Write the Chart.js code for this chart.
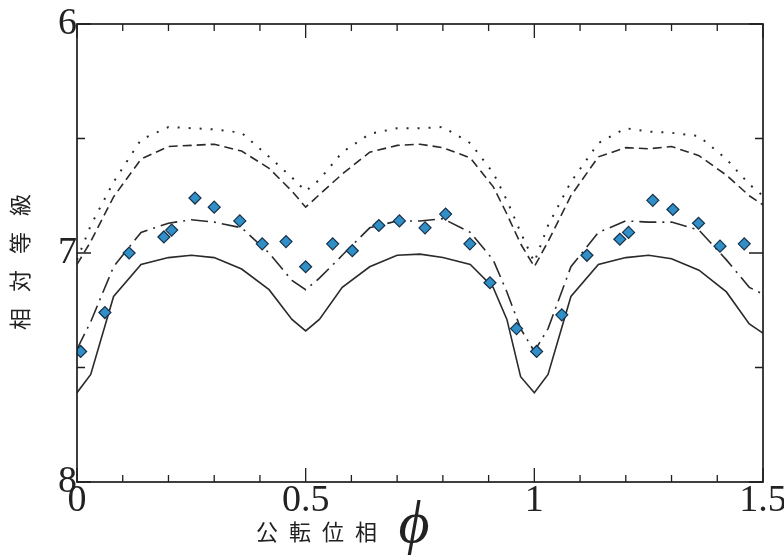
<!DOCTYPE html>
<html>
<head>
<meta charset="utf-8">
<script src="https://cdn.jsdelivr.net/npm/chart.js@4"></script>
<style>
  html, body { margin: 0; padding: 0; background: #fff; }
</style>
</head>
<body>
<canvas id="c" width="784" height="556"></canvas>
<script>
// phase grid shared by the three model curves
const phase = [0, 0.03, 0.08, 0.14, 0.2, 0.25, 0.3, 0.36, 0.42, 0.47,
  0.5, 0.53, 0.58, 0.64, 0.7, 0.75, 0.8, 0.86, 0.91, 0.94,
  0.97, 1.0, 1.03, 1.08, 1.14, 1.2, 1.25, 1.3, 1.36, 1.42,
  1.47, 1.5];

const solidMag = [7.61, 7.53, 7.19, 7.05, 7.02, 7.01, 7.02, 7.07, 7.16, 7.29,
  7.34, 7.29, 7.15, 7.06, 7.01, 7.005, 7.02, 7.05, 7.15, 7.29,
  7.54, 7.61, 7.53, 7.19, 7.05, 7.02, 7.01, 7.025, 7.075, 7.17,
  7.31, 7.35];

const dashDotMag = [7.42, 7.30, 7.06, 6.91, 6.87, 6.855, 6.865, 6.89, 7.0, 7.12,
  7.16, 7.11, 7.01, 6.89, 6.86, 6.86, 6.85, 6.91, 7.03, 7.17,
  7.33, 7.43, 7.33, 7.06, 6.91, 6.86, 6.865, 6.865, 6.9, 7.03,
  7.15, 7.18];

const dashedMag = [7.05, 6.95, 6.755, 6.59, 6.535, 6.53, 6.525, 6.555, 6.63, 6.73,
  6.80, 6.745, 6.655, 6.56, 6.53, 6.525, 6.54, 6.585, 6.71, 6.83,
  6.96, 7.06, 6.95, 6.75, 6.58, 6.54, 6.545, 6.535, 6.575, 6.66,
  6.75, 6.79];

const dottedMag = [7.03, 6.88, 6.69, 6.505, 6.45, 6.455, 6.46, 6.475, 6.58, 6.67,
  6.73, 6.68, 6.56, 6.48, 6.455, 6.455, 6.45, 6.52, 6.65, 6.77,
  6.91, 7.04, 6.88, 6.69, 6.52, 6.455, 6.47, 6.475, 6.49, 6.59,
  6.70, 6.75];

// observed points (diamonds)
const obsPhase = [0.008, 0.061, 0.114, 0.19, 0.207, 0.258, 0.30, 0.356, 0.405, 0.457,
  0.50, 0.559, 0.602, 0.66, 0.705, 0.761, 0.806, 0.859, 0.903, 0.961,
  1.005, 1.06, 1.115, 1.187, 1.206, 1.259, 1.303, 1.359, 1.406, 1.459];
const obsMag = [7.43, 7.26, 7.0, 6.93, 6.90, 6.76, 6.80, 6.86, 6.96, 6.95,
  7.06, 6.96, 6.99, 6.88, 6.86, 6.89, 6.83, 6.96, 7.13, 7.33,
  7.43, 7.27, 7.01, 6.94, 6.91, 6.77, 6.81, 6.87, 6.97, 6.96];

const xTicks = [0, 0.5, 1, 1.5];
const xMinor = [0.1, 0.2, 0.3, 0.4, 0.6, 0.7, 0.8, 0.9, 1.1, 1.2, 1.3, 1.4];
const yTicks = [6, 7, 8];
const yMinor = [6.5, 7.5];

const yTitle = ['相', '対', '等', '級'];
const xTitle = ['公', '転', '位', '相'];

const toXY = (xs, ys) => xs.map((x, i) => ({ x: x, y: ys[i] }));

const lineDs = (data, dash, width) => ({
  type: 'line',
  data: data,
  borderColor: '#2a2a2a',
  borderWidth: width,
  borderDash: dash,
  pointRadius: 0,
  fill: false,
  tension: 0
});

// frame, inward ticks and axis titles
const decor = {
  id: 'decor',
  afterDraw(chart) {
    const { ctx, chartArea: a, scales: { x, y } } = chart;
    ctx.save();
    ctx.strokeStyle = '#1e1e1e';
    ctx.lineWidth = 1.3;
    const tick = (px, len, vertical) => {
      ctx.beginPath();
      if (vertical) {
        ctx.moveTo(px, a.bottom); ctx.lineTo(px, a.bottom - len);
        ctx.moveTo(px, a.top); ctx.lineTo(px, a.top + len);
      } else {
        ctx.moveTo(a.left, px); ctx.lineTo(a.left + len, px);
        ctx.moveTo(a.right, px); ctx.lineTo(a.right - len, px);
      }
      ctx.stroke();
    };
    xTicks.forEach(v => tick(x.getPixelForValue(v), 14, true));
    xMinor.forEach(v => tick(x.getPixelForValue(v), 7, true));
    yTicks.forEach(v => tick(y.getPixelForValue(v), 14, false));
    yMinor.forEach(v => tick(y.getPixelForValue(v), 8, false));

    ctx.lineWidth = 1.7;
    ctx.strokeRect(a.left, a.top, a.right - a.left, a.bottom - a.top);

    ctx.fillStyle = '#222';
    ctx.font = '22px "Noto Sans CJK JP"';
    ctx.textAlign = 'center';
    ctx.textBaseline = 'middle';
    // vertical title, read bottom to top
    ctx.save();
    ctx.translate(20, 262);
    ctx.rotate(-Math.PI / 2);
    yTitle.forEach((c, i) => ctx.fillText(c, (i - 1.5) * 38, 0));
    ctx.restore();
    xTitle.forEach((c, i) => ctx.fillText(c, 267 + i * 33, 532));
    ctx.font = 'italic 60px "Liberation Serif"';
    ctx.fillText('ϕ', 414, 526);
    ctx.restore();
  }
};

new Chart(document.getElementById('c'), {
  type: 'line',
  data: {
    datasets: [
      {
        type: 'scatter',
        data: toXY(obsPhase, obsMag),
        pointStyle: 'rectRot',
        pointRadius: 6,
        backgroundColor: '#2f8fc6',
        borderColor: '#17304a',
        borderWidth: 1.2,
        showLine: false
      },
      lineDs(toXY(phase, solidMag), [], 1.6),
      lineDs(toXY(phase, dashDotMag), [17, 6, 2, 6], 1.6),
      lineDs(toXY(phase, dashedMag), [9, 5], 1.6),
      lineDs(toXY(phase, dottedMag), [2, 9], 2)
    ]
  },
  options: {
    responsive: false,
    devicePixelRatio: 1,
    animation: false,
    layout: { padding: { left: 0, right: 21, top: 24, bottom: 0 } },
    plugins: { legend: { display: false }, tooltip: { enabled: false } },
    scales: {
      x: {
        type: 'linear',
        min: 0,
        max: 1.5,
        grid: { display: false, drawTicks: false },
        border: { display: false },
        afterBuildTicks: s => { s.ticks = xTicks.map(v => ({ value: v })); },
        afterFit: s => { s.height = 74; s.paddingLeft = 0; s.paddingRight = 0; },
        ticks: {
          color: '#222',
          padding: -4,
          maxRotation: 0,
          font: { family: '"Liberation Serif"', size: 38 },
          callback: v => String(v)
        }
      },
      y: {
        type: 'linear',
        min: 6,
        max: 8,
        reverse: true,
        grid: { display: false, drawTicks: false },
        border: { display: false },
        afterBuildTicks: s => { s.ticks = yTicks.map(v => ({ value: v })); },
        afterFit: s => { s.width = 77; s.paddingTop = 0; s.paddingBottom = 0; },
        ticks: {
          color: '#222',
          padding: 0,
          font: { family: '"Liberation Serif"', size: 38 },
          callback: v => String(v)
        }
      }
    }
  },
  plugins: [decor]
});
</script>
</body>
</html>
